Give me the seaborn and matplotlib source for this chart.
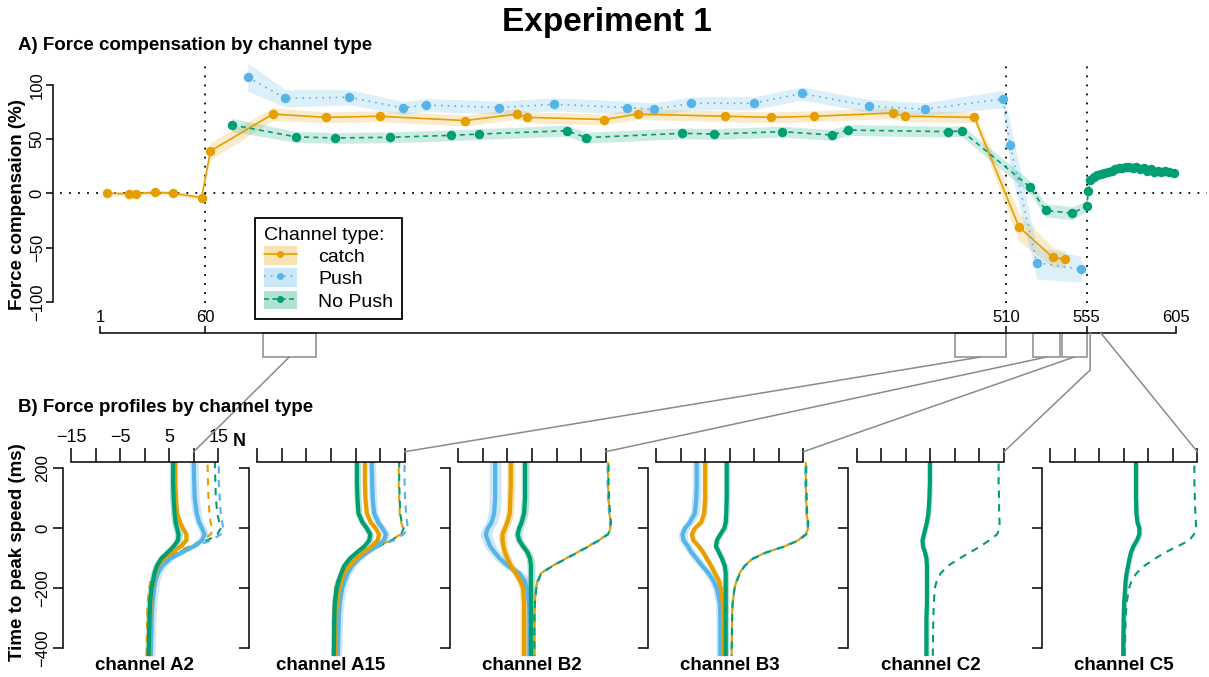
import matplotlib
matplotlib.use("Agg")
import matplotlib.pyplot as plt
from matplotlib.lines import Line2D
from matplotlib.patches import Patch, Rectangle
import seaborn as sns
import numpy as np

# ---------------- panel A : force compensation on channel trials ----------------
catch_trial = [5, 17, 21, 32, 42, 58, 63, 98, 128, 158, 206, 235, 241, 284, 303, 352, 378, 402, 446, 453, 492, 517, 536, 543]
catch_comp = [0, -0.5, -0.5, 1, 0, -4, 39, 73, 70, 71, 67, 73, 70, 68, 73, 71, 70, 71, 74, 71, 70, -31, -59, -61]
catch_se = [2, 2, 2, 2, 2, 2, 8, 6, 5, 5, 5, 5, 5, 5, 5, 5, 5, 5, 5, 5, 5, 13, 9, 8]

push_trial = [84, 105, 141, 171, 184, 225, 256, 297, 312, 333, 368, 395, 433, 464, 508, 512, 527, 552]
push_comp = [107, 87.5, 88.5, 78.6, 81.4, 79, 82, 79, 77.4, 83, 83, 92, 80.5, 77.4, 87, 44.5, -64, -70]
push_se = [13, 8, 7, 6, 6, 6, 6, 6, 6, 6, 6, 6, 6, 6, 8, 20, 15, 12]

nopush_trial = [75, 111, 133, 164, 198, 214, 263, 274, 328, 346, 384, 412, 421, 477, 485, 523, 532, 547, 555, 556,
                557, 559, 561, 563, 565, 567, 569, 571, 573, 575, 577, 579, 581, 583, 585, 587, 589, 591, 593, 595,
                597, 599, 601, 604]
nopush_comp = [63, 52, 51, 51.6, 53.4, 54.6, 57.7, 51.3, 55.3, 54.6, 56.8, 53.7, 58.3, 56.8, 57.4, 6, -15.7, -18.4, -11.7, 2.4,
               12, 15, 17, 18, 19, 20, 21, 22, 23, 23, 24, 24, 23, 24, 22, 23, 21, 22, 20, 21,
               20, 21, 20, 19]
nopush_se = [6, 5, 5, 5, 5, 5, 5, 5, 5, 5, 5, 5, 5, 5, 5, 6, 6, 6, 5, 4,
             3, 3, 3, 3, 3, 3, 3, 3, 3, 3, 3, 3, 3, 3, 3, 3, 3, 3, 3, 3,
             3, 3, 3, 3]

phase_edges = [60, 510, 555]
trial_ticks = [1, 60, 510, 555, 605]

# ---------------- panel B : force profiles ----------------
time_ms = [222, 150, 100, 50, 20, 0, -20, -40, -60, -80, -100, -125, -150, -175, -200, -250, -300, -425]

a2_catch = [6.2, 6.2, 6.3, 6.6, 7.2, 7.8, 8.5, 8.5, 7.4, 5.6, 3.9, 2.7, 2.1, 1.8, 1.5, 1.2, 1.1, 0.9]
a2_push = [10.0, 10.1, 10.2, 10.6, 11.1, 11.7, 12.2, 11.7, 10.0, 7.6, 5.3, 3.6, 2.7, 2.2, 1.9, 1.6, 1.4, 1.2]
a2_nopush = [5.8, 5.8, 5.9, 6.1, 6.3, 6.6, 6.9, 6.8, 5.9, 4.7, 3.4, 2.5, 2.0, 1.7, 1.4, 1.1, 1.0, 0.8]
a2_catch_ideal = [12.8, 12.9, 13.0, 13.2, 13.4, 13.8, 13.5, 11.7, 9.0, 6.6, 4.6, 2.9, 1.8, 1.2, 0.9, 0.6, 0.5, 0.4]
a2_push_ideal = [15.1, 15.1, 15.3, 15.5, 15.8, 16.0, 15.5, 13.6, 10.4, 7.4, 5.1, 3.2, 2.3, 1.8, 1.5, 1.2, 1.0, 0.9]
a2_nopush_ideal = [14.3, 14.4, 14.5, 14.8, 15.2, 15.5, 14.8, 12.8, 9.7, 7.0, 4.7, 2.9, 2.0, 1.5, 1.2, 0.9, 0.8, 0.8]

a15_catch = [6.9, 6.9, 7.0, 7.3, 8.1, 9.1, 9.8, 9.5, 8.3, 6.6, 5.1, 3.7, 2.7, 2.1, 1.7, 1.2, 1.0, 0.8]
a15_push = [8.3, 8.4, 8.5, 8.8, 9.6, 10.5, 11.2, 10.8, 9.3, 7.4, 5.8, 4.3, 3.4, 2.8, 2.3, 1.8, 1.6, 1.4]
a15_nopush = [5.3, 5.3, 5.4, 5.6, 6.4, 7.3, 8.0, 7.8, 6.8, 5.3, 3.9, 2.7, 2.1, 1.6, 1.2, 0.8, 0.7, 0.6]
a15_catch_ideal = [13.8, 13.8, 13.9, 14.0, 14.3, 14.7, 14.2, 12.2, 9.5, 7.1, 5.1, 3.1, 1.9, 1.2, 0.8, 0.5, 0.4, 0.4]
a15_push_ideal = [15.0, 15.0, 15.1, 15.3, 15.5, 15.7, 14.8, 12.8, 9.9, 7.4, 5.3, 3.3, 2.1, 1.4, 1.0, 0.7, 0.5, 0.5]
a15_nopush_ideal = [13.9, 13.9, 14.0, 14.1, 14.4, 14.8, 14.3, 12.3, 9.6, 7.2, 5.2, 3.2, 2.0, 1.3, 0.9, 0.6, 0.5, 0.5]

b2_catch = [-4.3, -4.3, -4.4, -4.5, -5.0, -5.5, -6.0, -6.0, -5.8, -5.5, -5.0, -4.3, -3.3, -2.4, -1.8, -1.6, -1.6, -1.6]
b2_push = [-7.5, -7.5, -7.5, -7.7, -8.2, -9.0, -9.4, -9.0, -8.5, -7.6, -6.6, -4.9, -2.6, -1.5, -1.0, -0.6, -0.5, -0.5]
b2_nopush = [-1.4, -1.4, -1.4, -1.6, -2.1, -2.6, -2.9, -2.6, -1.8, -0.9, -0.4, -0.2, -0.2, -0.2, -0.2, -0.2, -0.2, -0.2]
b2_catch_ideal = [15.5, 15.5, 15.6, 15.8, 16.0, 16.0, 15.5, 13.6, 11.5, 9.3, 7.0, 4.2, 1.8, 1.2, 0.8, 0.6, 0.5, 0.5]
b2_push_ideal = [15.4, 15.4, 15.5, 15.7, 15.9, 15.9, 15.4, 13.5, 11.4, 9.2, 6.9, 4.1, 1.8, 1.1, 0.8, 0.6, 0.5, 0.5]
b2_nopush_ideal = [15.6, 15.6, 15.7, 15.9, 16.1, 16.0, 15.5, 13.7, 11.6, 9.4, 7.1, 4.3, 1.9, 1.3, 0.9, 0.6, 0.5, 0.5]

b3_catch = [-5.0, -5.0, -5.0, -5.2, -5.8, -7.1, -7.7, -7.4, -6.3, -5.4, -4.7, -3.8, -3.0, -2.2, -1.8, -1.4, -1.3, -1.2]
b3_push = [-6.7, -6.7, -6.8, -7.1, -8.1, -9.1, -9.6, -9.4, -8.5, -7.8, -6.8, -5.6, -4.3, -3.3, -2.6, -2.0, -1.9, -1.9]
b3_nopush = [-0.6, -0.6, -0.6, -0.7, -0.8, -1.1, -1.9, -2.6, -2.8, -2.2, -1.6, -1.0, -0.8, -0.8, -0.8, -0.8, -0.8, -0.8]
b3_catch_ideal = [15.5, 15.5, 15.6, 15.7, 15.9, 16.0, 15.5, 14.0, 11.2, 7.5, 4.8, 3.0, 2.0, 1.4, 1.0, 0.6, 0.5, 0.4]
b3_push_ideal = [15.4, 15.4, 15.5, 15.6, 15.8, 15.9, 15.4, 13.9, 11.1, 7.4, 4.7, 3.0, 2.0, 1.4, 1.0, 0.6, 0.5, 0.4]
b3_nopush_ideal = [15.6, 15.6, 15.7, 15.8, 16.0, 16.0, 15.6, 14.1, 11.3, 7.6, 4.9, 3.1, 2.1, 1.5, 1.0, 0.6, 0.5, 0.4]

c2_nopush = [-0.1, -0.1, -0.2, -0.4, -0.7, -1.0, -1.3, -1.6, -1.5, -1.1, -0.8, -0.7, -0.7, -0.7, -0.7, -0.7, -0.8, -0.8]
c2_nopush_ideal = [13.9, 13.9, 14.0, 14.0, 14.1, 14.1, 13.6, 12.0, 10.2, 8.1, 6.0, 3.6, 2.1, 1.3, 0.9, 0.7, 0.6, 0.5]

c5_nopush = [2.5, 2.5, 2.5, 2.6, 2.8, 3.2, 3.2, 2.7, 2.0, 1.5, 1.2, 0.9, 0.6, 0.4, 0.3, 0.1, 0.0, -0.1]
c5_nopush_ideal = [14.4, 14.4, 14.5, 14.6, 14.7, 14.8, 14.3, 13.4, 11.0, 8.5, 6.5, 4.2, 2.6, 1.6, 1.1, 0.6, 0.4, 0.2]

channel_names = ["channel A2", "channel A15", "channel B2", "channel B3", "channel C2", "channel C5"]
force_ticks = [-15, -10, -5, 0, 5, 10, 15]
force_labels = ["\u221215", "", "\u22125", "", "5", "", "15"]
time_ticks = [-400, -200, 0, 200]

# ---------------- style ----------------
sns.set_theme(style="ticks")
plt.rcParams["font.family"] = ["Liberation Sans", "DejaVu Sans"]
plt.rcParams.update({"axes.edgecolor": "black", "xtick.color": "black", "ytick.color": "black",
                     "text.color": "black", "axes.labelcolor": "black"})

orange, blue, green = "#E69F00", "#56B4E9", "#009E73"
dots = (0, (1, 4))

W, H = 1209, 677
fig = plt.figure(figsize=(W / 100, H / 100), dpi=100)


def rect(l, t, r, b):
    return [l / W, 1 - b / H, (r - l) / W, (b - t) / H]


# ---------------- panel A ----------------
axA = fig.add_axes(rect(60, 62, 1207, 312))
axA.set_xlim(-21.5, 622.6)
axA.set_ylim(-109.4, 121)
axA.axhline(0, color="black", lw=1.3, ls=dots, zorder=0)
for v in phase_edges:
    axA.axvline(v, color="black", lw=1.3, ls=dots, zorder=0)

series = [
    (catch_trial, catch_comp, catch_se, orange, "-"),
    (push_trial, push_comp, push_se, blue, (0, (1, 3))),
    (nopush_trial, nopush_comp, nopush_se, green, (0, (3, 2.5))),
]
for tr, comp, se, col, ls in series:
    c = np.array(comp, float)
    s = np.array(se, float)
    axA.fill_between(tr, c - s, c + s, color=col, alpha=0.2, lw=0)
    sns.lineplot(x=tr, y=comp, ax=axA, color=col, lw=1.2, linestyle=ls, marker="o",
                 markersize=6.8, markeredgewidth=0, errorbar=None)

for s in ["top", "right", "bottom"]:
    axA.spines[s].set_visible(False)
axA.spines["left"].set_position(("outward", 5))
axA.spines["left"].set_bounds(-100, 100)
axA.spines["left"].set_linewidth(1.1)
axA.set_xticks([])
axA.set_yticks([-100, -50, 0, 50, 100])
axA.tick_params(axis="y", length=5, width=1.1, labelsize=12, pad=1)
for lab in axA.get_yticklabels():
    lab.set_rotation(90)
    lab.set_va("center")
axA.set_xlabel("")
axA.set_ylabel("")
axA.patch.set_alpha(0)

handles = [
    (Patch(fc=orange, alpha=0.3, lw=0), Line2D([], [], color=orange, ls="-", lw=1.2, marker="o", ms=4)),
    (Patch(fc=blue, alpha=0.3, lw=0), Line2D([], [], color=blue, ls=(0, (1, 3)), lw=1.2, marker="o", ms=4)),
    (Patch(fc=green, alpha=0.3, lw=0), Line2D([], [], color=green, ls=(0, (3, 2)), lw=1.2, marker="o", ms=4)),
]
leg = axA.legend(handles, ["catch", "Push", "No Push"], title="Channel type:", loc="upper left",
                 bbox_to_anchor=((255 - 60) / 1147, 1 - (218 - 62) / 250), borderaxespad=0,
                 frameon=True, fancybox=False, edgecolor="black", framealpha=1, fontsize=14,
                 title_fontsize=14, handlelength=1.7, handleheight=1.1, handletextpad=1.1,
                 labelspacing=0.12, borderpad=0.45, alignment="left")
leg.get_frame().set_linewidth(1.3)

# trial ruler with zoom brackets
rul = fig.add_axes(rect(60, 333, 1207, 357))
rul.set_xlim(axA.get_xlim())
rul.set_ylim(0, 1)
rul.patch.set_alpha(0)
for s in ["left", "right", "bottom"]:
    rul.spines[s].set_visible(False)
rul.spines["top"].set_bounds(1, 605)
rul.spines["top"].set_linewidth(1.1)
rul.xaxis.tick_top()
rul.set_xticks(trial_ticks)
rul.set_xticklabels([str(t) for t in trial_ticks])
rul.tick_params(axis="x", direction="out", length=5, width=1.1, pad=1, labelsize=12)
rul.set_yticks([])

grey = "#8a8a8a"
zoom_windows = [(92.5, 122), (481, 510), (525, 540), (541, 555)]
for a, b in zoom_windows:
    rul.add_patch(Rectangle((a, 0), b - a, 1, fill=False, ec=grey, lw=1.1, clip_on=False))

# ---------------- panel B ----------------
panel_left = [71, 257.3, 458.3, 656, 856.7, 1050]
px_per_n = 4.91
solids = [
    [(a2_push, blue, 0.9), (a2_catch, orange, 0.5), (a2_nopush, green, 0.8)],
    [(a15_push, blue, 0.8), (a15_catch, orange, 0.5), (a15_nopush, green, 0.7)],
    [(b2_push, blue, 1.2), (b2_catch, orange, 0.8), (b2_nopush, green, 0.8)],
    [(b3_push, blue, 0.9), (b3_catch, orange, 0.6), (b3_nopush, green, 0.6)],
    [(c2_nopush, green, 0.5)],
    [(c5_nopush, green, 0.5)],
]
ideals = [
    [(a2_catch_ideal, orange, 0), (a2_nopush_ideal, green, 2), (a2_push_ideal, blue, 4)],
    [(a15_catch_ideal, orange, 0), (a15_nopush_ideal, green, 3), (a15_push_ideal, blue, 4)],
    [(b2_push_ideal, blue, 4), (b2_catch_ideal, orange, 0), (b2_nopush_ideal, green, 3)],
    [(b3_push_ideal, blue, 4), (b3_catch_ideal, orange, 0), (b3_nopush_ideal, green, 3)],
    [(c2_nopush_ideal, green, 0)],
    [(c5_nopush_ideal, green, 0)],
]

panels = []
for i, left in enumerate(panel_left):
    ax = fig.add_axes(rect(left, 461.7, left + 31.3 * px_per_n, 655.8))
    for vals, col, off in ideals[i]:
        sns.lineplot(x=vals, y=time_ms, orient="y", estimator=None, ax=ax, color=col, lw=1.5,
                     linestyle=(off, (3.5, 3)))
    for vals, col, hw in solids[i]:
        v = np.array(vals, float)
        ax.fill_betweenx(time_ms, v - hw, v + hw, color=col, alpha=0.3, lw=0)
        sns.lineplot(x=vals, y=time_ms, orient="y", estimator=None, ax=ax, color=col, lw=3)
    ax.set_xlim(-15, 16.3)
    ax.set_ylim(-425, 222)
    ax.patch.set_alpha(0)
    ax.set_xlabel("")
    ax.set_ylabel("")
    for s in ["right", "bottom"]:
        ax.spines[s].set_visible(False)
    ax.spines["top"].set_bounds(-15, 15)
    ax.spines["left"].set_bounds(-400, 200)
    ax.spines["left"].set_position(("outward", 6))
    ax.spines["top"].set_linewidth(1.1)
    ax.spines["left"].set_linewidth(1.1)
    ax.xaxis.tick_top()
    ax.set_xticks(force_ticks)
    ax.set_yticks(time_ticks)
    ax.tick_params(axis="x", direction="out", length=10, width=1.1, pad=1.5, labelsize=13)
    ax.tick_params(axis="y", direction="out", length=7, width=1.1, pad=2, labelsize=12)
    if i == 0:
        ax.set_xticklabels(force_labels)
        ax.set_yticklabels(["\u2212400", "\u2212200", "0", "200"])
        for lab in ax.get_yticklabels():
            lab.set_rotation(90)
            lab.set_va("center")
        ax.annotate("N", xy=(15, 1), xycoords=ax.get_xaxis_transform(), xytext=(10.5, 8.5),
                    textcoords="offset points", fontsize=13, fontweight="bold", ha="left", va="bottom")
    else:
        ax.set_xticklabels([])
        ax.set_yticklabels([])
    fig.text((left + 15 * px_per_n) / W, 1 - 666 / H, channel_names[i], ha="center", va="center",
             fontsize=13.5, fontweight="bold")
    panels.append(ax)

# connectors from the trial ruler to the profile panels
to_fig = fig.transFigure.inverted()


def ruler_pt(trial, y):
    return to_fig.transform(rul.transData.transform((trial, y)))


def panel_pt(ax, force):
    x, y = ax.get_xaxis_transform().transform((force, 1))
    return to_fig.transform((x, y + 10))


links = [(107.25, 0, 0, 10), (495.5, 0, 1, 15), (532.5, 0, 2, 15), (548, 0, 3, 15), (557, -0.54, 4, 15),
         (563, 1, 5, 15)]
for trial, y0, pi, force in links:
    pts = [ruler_pt(trial, y0), panel_pt(panels[pi], force)]
    if y0 < 0:
        pts.insert(0, ruler_pt(trial, 1))
    xs = [p[0] for p in pts]
    ys = [p[1] for p in pts]
    fig.add_artist(Line2D(xs, ys, color=grey, lw=1.1, transform=fig.transFigure))

# ---------------- titles ----------------
fig.text(607 / W, 1 - 23 / H, "Experiment 1", ha="center", va="center", fontsize=24, fontweight="bold")
fig.text(18 / W, 1 - 45 / H, "A) Force compensation by channel type", ha="left", va="center",
         fontsize=13.5, fontweight="bold")
fig.text(18 / W, 1 - 407 / H, "B) Force profiles by channel type", ha="left", va="center",
         fontsize=13.5, fontweight="bold")
fig.text(18 / W, 1 - 205 / H, "Force compensaion (%)", rotation=90, ha="center", va="center",
         fontsize=13.5, fontweight="bold")
fig.text(18 / W, 1 - 552 / H, "Time to peak speed (ms)", rotation=90, ha="center", va="center",
         fontsize=13.5, fontweight="bold")

fig.savefig("out.png", dpi=100)
